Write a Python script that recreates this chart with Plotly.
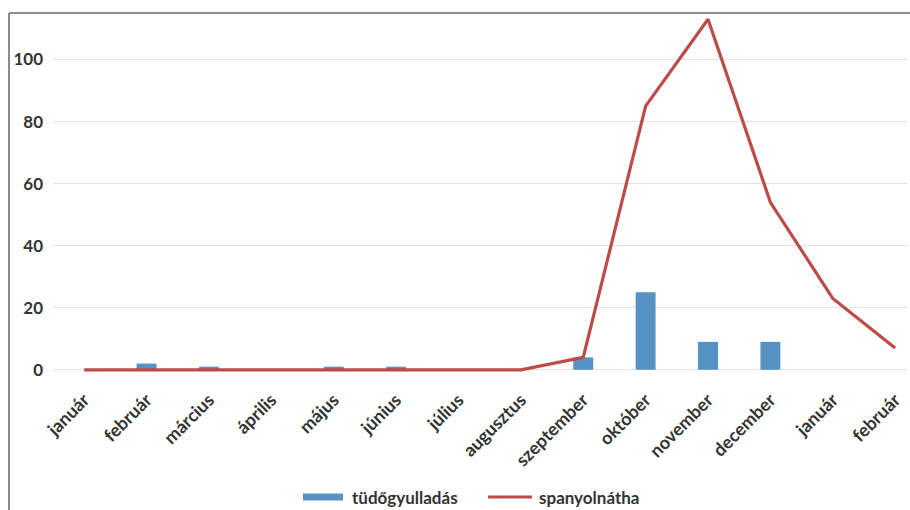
import plotly.graph_objects as go

# Monthly counts, January of one year through February of the next
months = ["január", "február", "március", "április", "május", "június", "július",
          "augusztus", "szeptember", "október", "november", "december", "január", "február"]
pneumonia = [0, 2, 1, 0, 1, 1, 0, 0, 4, 25, 9, 9, 0, 0]
spanish_flu = [0, 0, 0, 0, 0, 0, 0, 0, 4, 85, 113, 54, 23, 7]
y_ticks = [0, 20, 40, 60, 80, 100]

W, H = 910, 510
M_L, M_R, M_T, M_B = 53, 3, 13, 134
PW, PH = W - M_L - M_R, H - M_T - M_B

BLUE = "#5792c4"
RED = "#bd4b48"
TEXT = "#333333"
FONT = dict(family="Lato, Open Sans, sans-serif", size=17, color=TEXT, weight=700)
XFONT = dict(FONT, size=18)


def px_x(p):
    return (p - M_L) / PW


def px_y(p):
    return (H - M_B - p) / PH


x = list(range(len(months)))

fig = go.Figure()
fig.add_trace(go.Bar(x=x, y=pneumonia, name="tüdőgyulladás",
                     marker=dict(color=BLUE, line=dict(width=0)), width=0.32))
fig.add_trace(go.Scatter(x=x, y=spanish_flu, name="spanyolnátha", mode="lines",
                         line=dict(color=RED, width=3.2)))

fig.update_layout(
    width=W, height=H,
    margin=dict(l=M_L, r=M_R, t=M_T, b=M_B),
    paper_bgcolor="white", plot_bgcolor="white",
    showlegend=False,
    font=FONT,
    xaxis=dict(range=[-0.5, 13.19], tickmode="array", tickvals=x, ticktext=months,
               tickangle=-45, showgrid=False, zeroline=False, showline=False,
               ticks="", tickfont=XFONT, ticklabelstandoff=9, automargin=False),
    yaxis=dict(range=[-2, 115], tickmode="array", tickvals=y_ticks,
               showgrid=True, gridcolor="#e3e3e3", gridwidth=1,
               zeroline=True, zerolinecolor="#e3e3e3", zerolinewidth=1,
               showline=False, ticks="", tickfont=FONT, ticklabelstandoff=9,
               automargin=False),
)

# Outer chart frame (top and left edges)
frame = dict(color="#8c8c8c", width=2)
fig.add_shape(type="line", xref="paper", yref="paper",
              x0=px_x(9), x1=px_x(W + 2), y0=px_y(13), y1=px_y(13), line=frame)
fig.add_shape(type="line", xref="paper", yref="paper",
              x0=px_x(9), x1=px_x(9), y0=px_y(13), y1=px_y(H + 2), line=frame)

# Legend entries
ly = 497
fig.add_shape(type="rect", xref="paper", yref="paper",
              x0=px_x(303), x1=px_x(343), y0=px_y(ly - 3.5), y1=px_y(ly + 3.5),
              fillcolor=BLUE, line=dict(width=0))
fig.add_annotation(xref="paper", yref="paper", x=px_x(350), y=px_y(ly),
                   text="tüdőgyulladás", showarrow=False, xanchor="left",
                   yanchor="middle", font=FONT)
fig.add_shape(type="line", xref="paper", yref="paper",
              x0=px_x(488), x1=px_x(532), y0=px_y(ly), y1=px_y(ly),
              line=dict(color=RED, width=3.2))
fig.add_annotation(xref="paper", yref="paper", x=px_x(537), y=px_y(ly),
                   text="spanyolnátha", showarrow=False, xanchor="left",
                   yanchor="middle", font=FONT)

fig.write_html("out.html")
